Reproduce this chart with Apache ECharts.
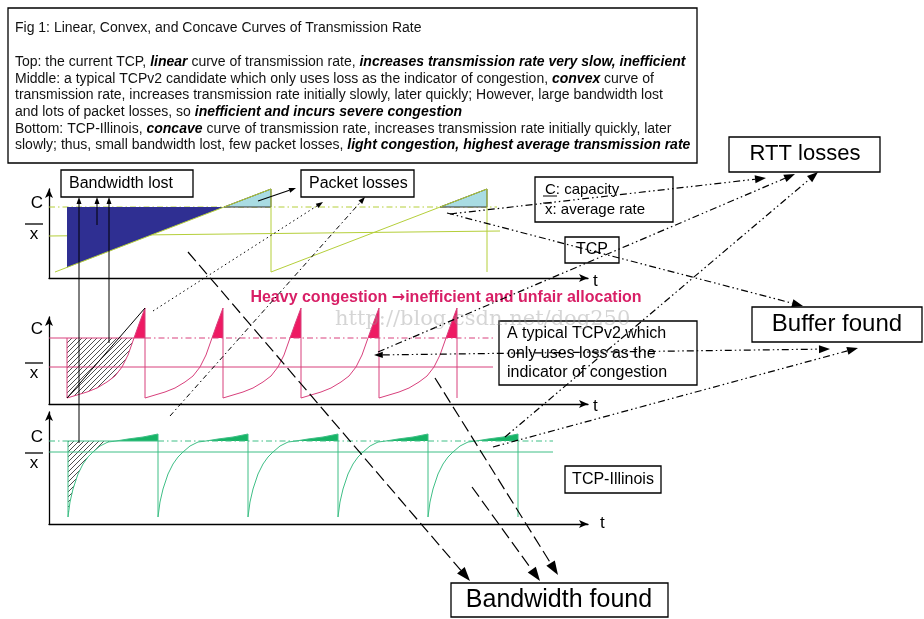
<!DOCTYPE html>
<html><head><meta charset="utf-8">
<script src="https://cdn.jsdelivr.net/npm/echarts@6/dist/echarts.min.js"></script>
<style>html,body{margin:0;padding:0;background:#fff}#c{width:924px;height:619px}</style>
</head><body><div id="c"></div>
<script>
// ================= DATA (axis units: x = time, y = rate) =================
// Top panel: current TCP, linear ramp
const topRamp = [[6,6],[222,89],[222,6],[438,89],[438,6]];
const topLostArea = [[18,71],[18,10.6],[175,71]];
const topLossTriangles = [[[175,71],[222,89],[222,71]], [[391,71],[438,89],[438,71]]];
const topCapacity = [[0,71],[448,71]];
const topAverage = [[0,42],[451,47]];

// Middle panel: convex TCPv2 candidate
const midCycleStarts = [18, 96, 174, 252, 330];
const midCycle = [[0,6],[10,9],[20,12],[30,16],[40,22],[48,28],[55,37],[61,49],[67,66],[72,80],[78,96]];
const midCapacityValue = 66;
const midCapSolid = [[0,66],[96,66]];
const midCapDash = [[96,66],[444,66]];
const midAverage = [[0,37],[444,37]];
const midLinear = [[18,6],[96,96]];
const midLeftEdge = [[18,66],[18,6]];

// Bottom panel: concave TCP-Illinois
const botCycleStarts = [19, 109, 199, 289, 379];
const botCycle = [[0,7],[2,22],[5,35],[10,50],[15,60],[20,67],[25,72],[32,78],[40,82],[48,83],[60,85],[75,87],[90,90]];
const botCapacityValue = 83;
const botCapDashA = [[0,83],[19,83]];
const botCapSolid = [[19,83],[109,83]];
const botCapDashB = [[109,83],[504,83]];
const botAverage = [[0,72],[504,72]];
const botLeftEdge = [[19,83],[19,7]];

// ================= build helpers =================
function buildCurve(starts, shape){
  const period = shape[shape.length-1][0];
  const out = [];
  starts.forEach(s => shape.forEach(([dx,y]) => out.push([s+dx, y])));
  const last = starts[starts.length-1];
  out.push([last+period, shape[0][1]]);
  return out;
}
function buildTops(starts, shape, cap){
  const period = shape[shape.length-1][0];
  const ci = shape.findIndex(p => p[1] === cap);
  return starts.map(s => shape.slice(ci).map(([dx,y]) => [s+dx,y]).concat([[s+period, cap]]));
}
function buildHatch(start, shape, cap){
  const ci = shape.findIndex(p => p[1] === cap);
  return [[start, cap]].concat(shape.slice(0, ci+1).map(([dx,y]) => [start+dx, y]));
}

const hatch = document.createElement('canvas');
hatch.width = 5; hatch.height = 5;
(function(){const c = hatch.getContext('2d'); c.strokeStyle = '#222'; c.lineWidth = 0.8;
  c.beginPath(); c.moveTo(0,5); c.lineTo(5,0); c.moveTo(-1,1); c.lineTo(1,-1); c.moveTo(4,6); c.lineTo(6,4); c.stroke();})();
const hatchFill = {image: hatch, repeat: 'repeat'};

const TOP_LINE = '#b5cf3a', BLUE = '#2f2f92', LIGHT = '#a9dce3';
const MAG_LINE = '#d8407c', MAG_FILL = '#ee1a63', MAG_TEXT = '#d81f66';
const GRN_LINE = '#3fbf86', GRN_FILL = '#17b466';
const DASHDOT = [6,3,1.5,3];

function lineS(g, data, color, dash, z){
  return {type:'line', xAxisIndex:g, yAxisIndex:g, data, showSymbol:false, symbol:'none', clip:false,
    silent:true, animation:false, lineStyle:{color, width:1, type: dash || 'solid'}, z: z || 3};
}
function polyS(g, polys, fill, stroke, z){
  return {type:'custom', xAxisIndex:g, yAxisIndex:g, coordinateSystem:'cartesian2d', silent:true, clip:false,
    animation:false, z: z || 2, data: polys.map(p => p[0]),
    renderItem: (params, api) => {
      const p = polys[params.dataIndex];
      return {type:'polygon', shape:{points: p.map(q => api.coord(q))},
        style:{fill, stroke: stroke || null, lineWidth: stroke ? 1 : 0}};
    }};
}

const midCurve = buildCurve(midCycleStarts, midCycle);
const botCurve = buildCurve(botCycleStarts, botCycle);

const series = [
  // top
  lineS(0, topCapacity, TOP_LINE, DASHDOT, 2),
  lineS(0, topAverage, TOP_LINE, null, 2),
  polyS(0, [topLostArea], BLUE, null, 3),
  polyS(0, topLossTriangles, LIGHT, '#333', 3),
  lineS(0, topRamp, TOP_LINE, null, 4),
  // middle
  polyS(1, [buildHatch(midCycleStarts[0], midCycle, midCapacityValue)], hatchFill, null, 2),
  polyS(1, buildTops(midCycleStarts, midCycle, midCapacityValue), MAG_FILL, null, 2),
  lineS(1, midCapSolid, MAG_LINE),
  lineS(1, midCapDash, MAG_LINE, DASHDOT),
  lineS(1, midAverage, MAG_LINE),
  lineS(1, midLeftEdge, MAG_LINE),
  lineS(1, midCurve, MAG_LINE, null, 4),
  lineS(1, midLinear, '#000', null, 4),
  // bottom
  polyS(2, [buildHatch(botCycleStarts[0], botCycle, botCapacityValue)], hatchFill, null, 2),
  polyS(2, buildTops(botCycleStarts, botCycle, botCapacityValue), GRN_FILL, null, 2),
  lineS(2, botCapDashA, GRN_LINE, DASHDOT),
  lineS(2, botCapSolid, GRN_LINE),
  lineS(2, botCapDashB, GRN_LINE, DASHDOT),
  lineS(2, botAverage, GRN_LINE),
  lineS(2, botLeftEdge, GRN_LINE),
  lineS(2, botCurve, GRN_LINE, null, 4)
];

const axisCommon = {type:'value', axisTick:{show:false}, axisLabel:{show:false}, splitLine:{show:false},
  axisLine:{show:true, symbol:['none','arrow'], symbolSize:[6,9], lineStyle:{color:'#000', width:1.3}}};
const grids = [
  {left:49, top:189, width:539, height:89},
  {left:49, top:317, width:539, height:87},
  {left:49, top:412, width:539, height:112}
];
const ymax = [89, 87, 112];

// ================= annotations =================
const G = [];
const FONT = '"Liberation Sans", Arial, sans-serif';
function box(x,y,w,h){ G.push({type:'rect', shape:{x,y,width:w,height:h}, style:{fill:'#fff', stroke:'#000', lineWidth:1.3}, z:50}); }
function txt(x,y,text,size,o){ o = o || {};
  G.push({type:'text', x, y, z: o.z || 60, style:Object.assign({text, font:(o.weight||'normal')+' '+size+'px '+(o.family||FONT),
    fill:o.color||'#000', align:o.align||'left', verticalAlign:'middle', textAlign:o.align||'left', textVerticalAlign:'middle'}, o.extra||{})}); }
function seg(x1,y1,x2,y2,w){ G.push({type:'line', shape:{x1,y1,x2,y2}, style:{stroke:'#000', lineWidth:w||1.2}, z:61}); }
function head(xt,yt,xf,yf,L,W){
  const dx = xt-xf, dy = yt-yf, len = Math.hypot(dx,dy), ux = dx/len, uy = dy/len;
  const bx = xt-ux*L, by = yt-uy*L;
  G.push({type:'polygon', shape:{points:[[xt,yt],[bx-uy*W, by+ux*W],[bx+uy*W, by-ux*W]]}, style:{fill:'#000'}, z:71});
  return [bx,by];
}
function arrow(a){
  const [x1,y1] = a.from, [x2,y2] = a.to;
  const L = a.L || 11, W = a.W || 4;
  let [ex,ey] = head(x2,y2,x1,y1,L,W);
  let sx = x1, sy = y1;
  if (a.both) { [sx,sy] = head(x1,y1,x2,y2,L*0.8,W*0.8); }
  G.push({type:'line', shape:{x1:sx,y1:sy,x2:ex,y2:ey}, style:{stroke:'#000', lineWidth:a.w||1.2, lineDash:a.dash||null}, z:70});
}

// caption
box(8, 8, 689, 155);
const capRich = {bi:{fontWeight:'bold', fontStyle:'italic', fontSize:14, fontFamily:'"Liberation Sans", Arial, sans-serif', fill:'#000'}};
const captionLines = [
  'Fig 1: Linear, Convex, and Concave Curves of Transmission Rate',
  'Top: the current TCP, {bi|linear} curve of transmission rate, {bi|increases transmission rate very slow, inefficient}',
  'Middle: a typical TCPv2 candidate which only uses loss as the indicator of congestion, {bi|convex} curve of',
  'transmission rate, increases transmission rate initially slowly, later quickly; However, large bandwidth lost',
  'and lots of packet losses, so {bi|inefficient and incurs severe congestion}',
  'Bottom: TCP-Illinois, {bi|concave} curve of transmission rate, increases transmission rate initially quickly, later',
  'slowly; thus, small bandwidth lost, few packet losses, {bi|light congestion, highest average transmission rate}'
];
const captionY = [28, 62, 79, 95.5, 112, 129, 145.5];
captionLines.forEach((t,i) => txt(15, captionY[i], t, 14, {color:'#111', extra:{rich:capRich}}));

// boxes with labels
box(61,170,132,27);   txt(69,183.5,'Bandwidth lost',16);
box(301,170,113,27);  txt(309,183.5,'Packet losses',16);
box(535,177,138,45);  txt(545,190,'C: capacity',15); txt(545,210,'x: average rate',15);
seg(543,196,557,196,1); seg(543,203,552,203,1);
box(565,237,54,26);   txt(592,250,'TCP',16,{align:'center'});
box(729,137,151,35);  txt(805,154,'RTT losses',22,{align:'center'});
box(752,307,170,35);  txt(837,324,'Buffer found',24,{align:'center'});
box(499,321,198,64);  txt(507,334,'A typical TCPv2 which',16); txt(507,354,'only uses loss as the',16); txt(507,373,'indicator of congestion',16);
box(565,466,96,27);   txt(613,479.5,'TCP-Illinois',16,{align:'center'});
box(451,583,217,34);  txt(559,600,'Bandwidth found',25,{align:'center'});

// axis labels
[[203,224,234],[329,363,373],[437,453,463]].forEach(([cy,oy,xy]) => {
  txt(37,cy,'C',17,{align:'center'}); txt(34,xy,'x',17,{align:'center'}); seg(25,oy,43,oy,1.3);
});
txt(593,281,'t',17); txt(593,406,'t',17); txt(600,523,'t',17);

// title in the middle
txt(446,298,'Heavy congestion {ar|\u2192}inefficient and unfair allocation',16,{align:'center', weight:'bold', color:MAG_TEXT,
  extra:{rich:{ar:{fontFamily:'"DejaVu Sans", sans-serif', fontSize:16, fontWeight:'bold', fill:MAG_TEXT}}}});
// watermark
txt(335,320,'http://blog.csdn.net/dog250',21,{family:'"DejaVu Serif", serif', color:'rgba(150,150,150,0.4)', z:80});

// arrows
const DD = [7,3,1.5,3,1.5,3];
const arrows = [
  {from:[79,443], to:[79,197], L:7, W:2.5, w:1},
  {from:[97,225], to:[97,197], L:7, W:2.5, w:1},
  {from:[109,343], to:[109,197], L:7, W:2.5, w:1},
  {from:[258,201], to:[296,188], L:7, W:2.5, w:1.2},
  {from:[153,311], to:[323,202], L:7, W:2.5, w:1, dash:[1.5,3]},
  {from:[170,416], to:[365,197], L:7, W:2.5, w:1, dash:[5,3,1.5,3]},
  {from:[188,252], to:[470,581], L:14, W:5, dash:[12,5]},
  {from:[472,487], to:[540,581], L:14, W:5, dash:[12,5]},
  {from:[435,378], to:[558,575], L:14, W:5, dash:[12,5]},
  {from:[450,214], to:[766,178], dash:DD},
  {from:[378,352], to:[795,174], dash:DD},
  {from:[505,437], to:[818,172], dash:DD},
  {from:[447,213], to:[803,306], dash:DD},
  {from:[374,355], to:[830,349], dash:DD, both:true},
  {from:[493,447], to:[858,348], dash:DD}
];
arrows.forEach(arrow);

const chart = echarts.init(document.getElementById('c'), null, {renderer:'canvas'});
chart.setOption({
  animation:false,
  backgroundColor:'#fff',
  textStyle:{fontFamily:FONT},
  grid: grids,
  xAxis: grids.map((g,i) => Object.assign({}, axisCommon, {gridIndex:i, min:0, max:539})),
  yAxis: grids.map((g,i) => Object.assign({}, axisCommon, {gridIndex:i, min:0, max:ymax[i]})),
  series,
  graphic: {elements: G}
});
</script></body></html>
